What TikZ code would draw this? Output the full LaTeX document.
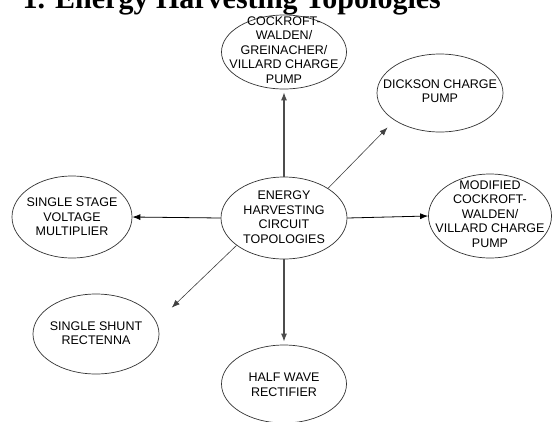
\documentclass[tikz,border=0pt]{standalone}
\usepackage{fontspec}
\setmainfont{Liberation Serif}
\newfontfamily\diagsans{Liberation Sans}
\usetikzlibrary{shapes.geometric,arrows.meta}
\begin{document}
\begin{tikzpicture}[x=1pt,y=-1pt,
  bubble/.style={draw=black!80, line width=0.7pt, ellipse, inner sep=0pt},
  btext/.style={font=\diagsans\fontsize{12.5}{14.5}\selectfont, align=center, inner sep=0pt},
  arr/.style={-{Latex[length=8pt,width=6pt]}, line width=0.8pt},
  varr/.style={arr, draw=black!70, line width=1.1pt},
  darr/.style={arr, draw=black!75, line width=0.6pt}]
\useasboundingbox (0,0) rectangle (553,421);
\fill[white] (0,0) rectangle (553,421);
\clip (0,0) rectangle (553,421);
% title (cut off at the top)
\node[anchor=base east, inner sep=0pt, font=\bfseries\fontsize{30}{30}\selectfont] (title) at (441,8) {1. Energy Harvesting Topologies};
% ellipses
\node[bubble, minimum width=125pt, minimum height=74pt] (tp) at (284,52) {};
\node[bubble, minimum width=126pt, minimum height=78pt] (dk) at (440,93) {};
\node[bubble, minimum width=126pt, minimum height=82pt] (ce) at (284,218) {};
\node[bubble, minimum width=120pt, minimum height=82pt] (ss) at (72,217) {};
\node[bubble, minimum width=123pt, minimum height=84pt] (md) at (490,216) {};
\node[bubble, minimum width=126pt, minimum height=80pt] (sh) at (96,334) {};
\node[bubble, minimum width=125pt, minimum height=78pt] (hw) at (284,384) {};
% texts
\node[btext] (tpt) at (284,50) {COCKROFT-\\WALDEN/\\GREINACHER/\\VILLARD CHARGE\\PUMP};
\node[btext] (dkt) at (440,91) {DICKSON CHARGE\\PUMP};
\node[btext] (cet) at (284,217) {ENERGY\\HARVESTING\\CIRCUIT\\TOPOLOGIES};
\node[btext] (sst) at (72,217) {SINGLE STAGE\\VOLTAGE\\MULTIPLIER};
\node[btext] (mdt) at (490,214) {MODIFIED\\COCKROFT-\\WALDEN/\\VILLARD CHARGE\\PUMP};
\node[btext] (sht) at (96,333) {SINGLE SHUNT\\RECTENNA};
\node[btext] (hwt) at (284,385) {HALF WAVE\\RECTIFIER};
% connectors
\draw[varr, shorten >=3pt] (ce.north) -- (tp.south);
\draw[varr, shorten >=3pt] (ce.south) -- (hw.north);
\draw[arr] (ce.west) -- (ss.east);
\draw[arr] (ce.east) -- (md.west);
\draw[darr, shorten >=10pt] (ce.34) -- (dk.211);
\draw[darr, shorten >=21pt] (ce.210) -- (sh.11);
\end{tikzpicture}
\end{document}
